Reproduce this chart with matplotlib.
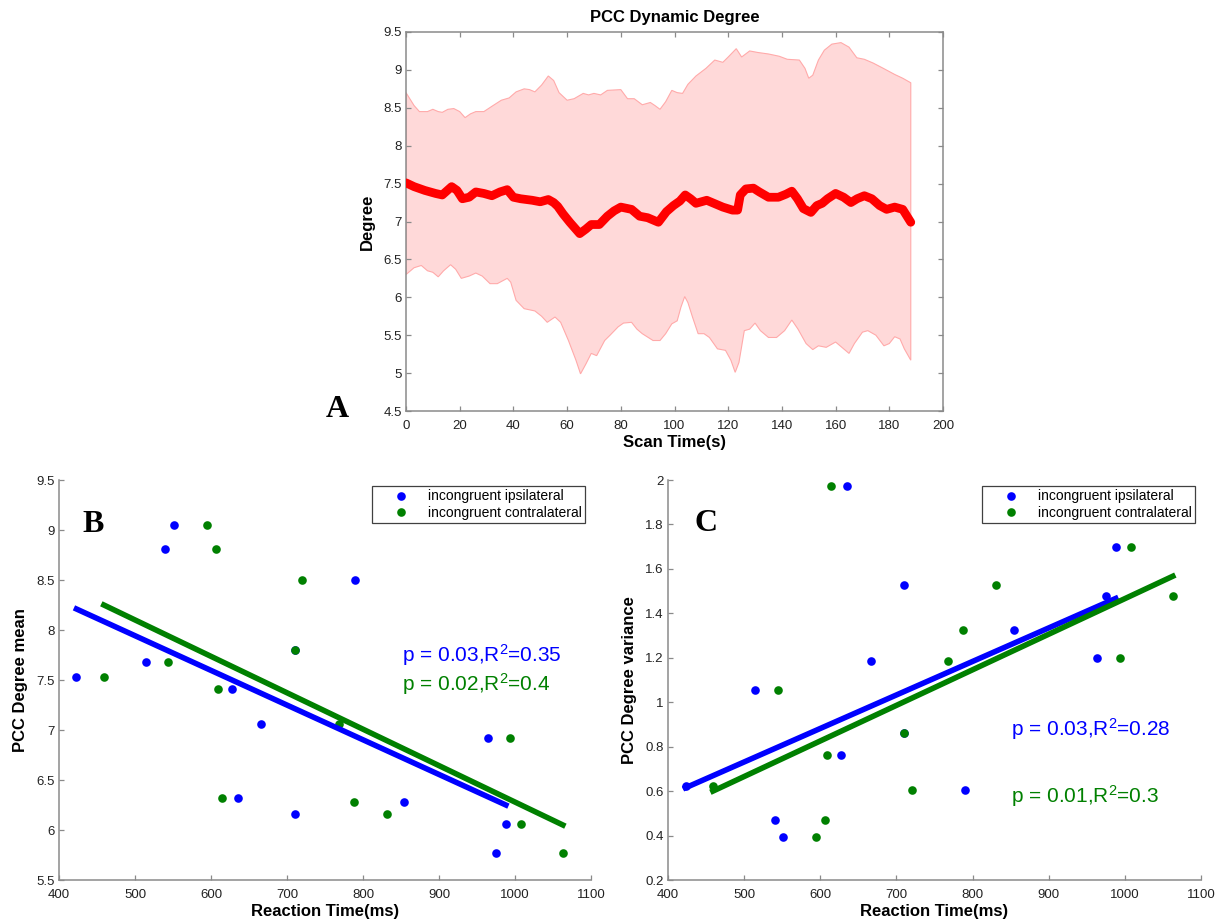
import numpy as np
import matplotlib
matplotlib.use("Agg")
import matplotlib.pyplot as plt
from matplotlib.ticker import FixedLocator, FuncFormatter

plt.rcParams['font.family'] = ['Liberation Sans', 'DejaVu Sans']
plt.rcParams['mathtext.fontset'] = 'custom'
plt.rcParams['mathtext.rm'] = 'Liberation Sans'
plt.rcParams['mathtext.it'] = 'Liberation Sans:italic'
plt.rcParams['mathtext.bf'] = 'Liberation Sans:bold'

# ---------------- Panel A: PCC dynamic degree over scan time ----------------
t_mean = [0, 3, 7, 11, 13.5, 17, 19, 21, 23.5, 26, 29, 32, 35, 37.7, 40, 42.7, 47, 50,
          53, 55, 56.5, 58.5, 61, 64.7, 67, 69, 72, 75, 77.5, 80, 84, 87, 90, 92, 94,
          97, 99.6, 102, 104, 106, 108, 112, 114, 118, 121.6, 123.5, 124.5, 126.6,
          129.4, 131.6, 135, 138.7, 141.5, 143.7, 145.8, 148, 150.8, 153, 155, 157,
          160, 163, 165.7, 168, 170.7, 173.5, 176.4, 179, 182, 185, 188]
deg_mean = [7.51, 7.46, 7.41, 7.37, 7.35, 7.46, 7.41, 7.30, 7.32, 7.39, 7.37, 7.34, 7.39,
            7.42, 7.32, 7.30, 7.28, 7.26, 7.29, 7.25, 7.20, 7.10, 6.99, 6.84, 6.90, 6.96,
            6.96, 7.07, 7.14, 7.19, 7.16, 7.07, 7.05, 7.02, 6.99, 7.13, 7.21, 7.27, 7.35,
            7.30, 7.24, 7.28, 7.25, 7.19, 7.15, 7.15, 7.35, 7.43, 7.44, 7.39, 7.32, 7.32,
            7.36, 7.40, 7.30, 7.17, 7.12, 7.21, 7.24, 7.30, 7.37, 7.32, 7.25, 7.30, 7.34,
            7.30, 7.21, 7.16, 7.19, 7.16, 6.99]

t_upper = [0, 3, 5, 8, 10, 12, 13.5, 15.6, 17.8, 20, 22, 24, 26, 29, 32, 35.5, 38.4, 41,
           44, 46, 48, 50.5, 53, 55, 57, 60, 62.6, 66, 68, 70, 72.5, 75, 80, 82.5, 85,
           88, 91, 92.7, 94.6, 96.7, 99, 101, 103, 105, 108, 111.7, 115, 118, 120, 123,
           125, 128, 131, 135, 139, 142, 146.5, 148.6, 150, 151.5, 153.6, 155.8, 158.6,
           162, 165, 167.9, 170.7, 174, 177.8, 182, 185, 188]
deg_upper = [8.70, 8.53, 8.45, 8.45, 8.48, 8.45, 8.44, 8.48, 8.49, 8.45, 8.37, 8.42, 8.45,
             8.45, 8.52, 8.60, 8.63, 8.71, 8.75, 8.74, 8.71, 8.80, 8.92, 8.86, 8.70, 8.60,
             8.62, 8.69, 8.67, 8.69, 8.67, 8.73, 8.74, 8.62, 8.62, 8.54, 8.57, 8.53, 8.48,
             8.58, 8.73, 8.70, 8.69, 8.81, 8.92, 9.02, 9.13, 9.10, 9.17, 9.28, 9.17, 9.25,
             9.23, 9.21, 9.18, 9.14, 9.13, 9.02, 8.89, 8.93, 9.13, 9.26, 9.34, 9.36, 9.30,
             9.16, 9.14, 9.09, 9.02, 8.94, 8.89, 8.83]

t_lower = [0, 3, 5.7, 8, 10, 12, 14, 16.6, 18.5, 20.6, 23.5, 26, 28.4, 31.3, 34, 37.7, 39,
           41, 44, 48, 50.5, 52.6, 55.5, 57.6, 60.5, 63.3, 65, 67, 69, 71, 74, 76, 79, 81,
           84, 86, 88, 92, 94.6, 96.7, 99, 101, 102.4, 103.8, 105, 106.7, 108.8, 111, 113,
           116, 119, 121, 122.6, 124, 126, 128, 130, 132, 135, 138, 141, 143.7, 146, 149,
           151.5, 153.6, 156.5, 160, 163, 165, 167, 170, 172, 175, 178, 180, 182, 184,
           185.6, 188]
deg_lower = [6.30, 6.39, 6.42, 6.35, 6.33, 6.27, 6.35, 6.43, 6.37, 6.25, 6.28, 6.32, 6.28,
             6.18, 6.18, 6.25, 6.20, 5.96, 5.85, 5.82, 5.75, 5.67, 5.74, 5.67, 5.43, 5.17,
             4.99, 5.12, 5.26, 5.23, 5.43, 5.50, 5.61, 5.66, 5.67, 5.58, 5.52, 5.43, 5.43,
             5.52, 5.65, 5.69, 5.87, 6.01, 5.93, 5.74, 5.52, 5.52, 5.47, 5.32, 5.30, 5.17,
             5.01, 5.14, 5.56, 5.58, 5.66, 5.56, 5.47, 5.47, 5.56, 5.70, 5.58, 5.39, 5.31,
             5.36, 5.34, 5.41, 5.32, 5.26, 5.39, 5.54, 5.56, 5.50, 5.36, 5.39, 5.48, 5.45,
             5.32, 5.17]

# ---------------- Panels B/C: per-subject reaction time vs PCC degree ----------------
rt_ipsilateral = [551, 540, 790, 423, 514, 627, 666, 635, 710, 854, 964, 988, 975, 710]
rt_contralateral = [595, 606, 720, 459, 544, 609, 768, 614, 831, 788, 993, 1008, 1063, 710]
pcc_degree_mean = [9.05, 8.81, 8.50, 7.53, 7.68, 7.41, 7.06, 6.32, 6.16, 6.28, 6.92, 6.06,
                   5.77, 7.80]
pcc_degree_variance = [0.395, 0.468, 0.603, 0.623, 1.053, 0.761, 1.185, 1.974, 1.526,
                       1.327, 1.20, 1.70, 1.477, 0.863]

# Regression line values at the shortest and longest reaction time of each group
fit_mean_ipsilateral = [8.21, 6.25]
fit_mean_contralateral = [8.25, 6.05]
fit_variance_ipsilateral = [0.615, 1.467]
fit_variance_contralateral = [0.600, 1.567]

group_labels = ['incongruent ipsilateral', 'incongruent contralateral']
stats_mean = ['p = 0.03,R$^2$=0.35', 'p = 0.02,R$^2$=0.4']
stats_variance = ['p = 0.03,R$^2$=0.28', 'p = 0.01,R$^2$=0.3']

BLUE = '#0000ff'
GREEN = '#008000'
SPINE = '#8a8a8a'
TICKLBL = '#222222'

W, H = 1224, 922
fig = plt.figure(figsize=(W / 100, H / 100), dpi=100)


def px_axes(left, top, right, bottom):
    return fig.add_axes([left / W, 1 - bottom / H, (right - left) / W, (bottom - top) / H])


def fmt(v, _):
    return '%g' % round(v, 3)


def style_axes(ax, full_box):
    for side in ['top', 'right']:
        ax.spines[side].set_visible(full_box)
    for sp in ax.spines.values():
        sp.set_color(SPINE)
        sp.set_linewidth(1.1)
    ax.tick_params(direction='in', length=3.5, width=0.9, color=SPINE,
                   labelsize=9.5, labelcolor=TICKLBL, pad=3,
                   top=full_box, right=full_box)
    ax.tick_params(axis='x', pad=6.5)
    ax.xaxis.set_major_formatter(FuncFormatter(fmt))
    ax.yaxis.set_major_formatter(FuncFormatter(fmt))


# ---- Panel A ----
axA = px_axes(406, 32, 943, 411)
band_x = list(t_upper) + list(t_lower[::-1])
band_y = list(deg_upper) + list(deg_lower[::-1])
axA.fill(band_x, band_y, facecolor='#ffd9d9', edgecolor='#ffaaaa', linewidth=0.8, zorder=1)
axA.plot(t_mean, deg_mean, color='#ff0000', linewidth=6.3, solid_capstyle='round',
         solid_joinstyle='round', zorder=3)
axA.set_xlim(0, 200)
axA.set_ylim(4.5, 9.5)
axA.xaxis.set_major_locator(FixedLocator(np.arange(0, 201, 20)))
axA.yaxis.set_major_locator(FixedLocator(np.arange(4.5, 9.51, 0.5)))
style_axes(axA, True)
axA.set_title('PCC Dynamic Degree', fontsize=12, fontweight='bold', pad=7)
axA.set_xlabel('Scan Time(s)', fontsize=12, fontweight='bold', labelpad=2)
axA.set_ylabel('Degree', fontsize=12, fontweight='bold', labelpad=6)


def scatter_panel(ax, yvals, fits, ylim, yticks, ylabel, stats, stat_y):
    xi = np.array(rt_ipsilateral, dtype=float)
    xc = np.array(rt_contralateral, dtype=float)
    y = np.array(yvals, dtype=float)
    ax.plot(xi, y, 'o', color=BLUE, markersize=6.2, markeredgewidth=0,
            label=group_labels[0], zorder=3)
    ax.plot(xc, y, 'o', color=GREEN, markersize=6.2, markeredgewidth=0,
            label=group_labels[1], zorder=3)
    for xs, fit, col in [(xi, fits[0], BLUE), (xc, fits[1], GREEN)]:
        ax.plot([xs.min(), xs.max()], fit, color=col, linewidth=4, zorder=4)
    for txt, ty, col in zip(stats, stat_y, [BLUE, GREEN]):
        ax.text(851, ty, txt, color=col, fontsize=15, va='baseline', ha='left', zorder=5)
    ax.set_xlim(400, 1100)
    ax.set_ylim(*ylim)
    ax.xaxis.set_major_locator(FixedLocator(np.arange(400, 1101, 100)))
    ax.yaxis.set_major_locator(FixedLocator(yticks))
    style_axes(ax, False)
    ax.set_xlabel('Reaction Time(ms)', fontsize=12, fontweight='bold', labelpad=2)
    ax.set_ylabel(ylabel, fontsize=12, fontweight='bold', labelpad=6)
    leg = ax.legend(loc='upper right', bbox_to_anchor=(1.0 - 6 / 532, 1.0 - 6 / 400),
                    fontsize=10, frameon=True, fancybox=False, framealpha=1,
                    edgecolor='#404040', borderpad=0.25, labelspacing=0.15,
                    handlelength=3.6, handletextpad=0.15, borderaxespad=0,
                    numpoints=1)
    leg.get_frame().set_linewidth(0.9)
    return ax


axB = px_axes(59, 480, 591, 880)
scatter_panel(axB, pcc_degree_mean, [fit_mean_ipsilateral, fit_mean_contralateral],
              (5.5, 9.5), np.arange(5.5, 9.51, 0.5),
              'PCC Degree mean', stats_mean, [7.68, 7.39])

axC = px_axes(668, 480, 1201, 880)
scatter_panel(axC, pcc_degree_variance, [fit_variance_ipsilateral, fit_variance_contralateral],
              (0.2, 2.0), np.round(np.arange(0.2, 2.01, 0.2), 1),
              'PCC Degree variance', stats_variance, [0.848, 0.548])

# Panel letters
for letter, x, y in [('A', 326, 417), ('B', 82, 532), ('C', 694, 531)]:
    fig.text(x / W, 1 - y / H, letter, fontsize=23, fontweight='bold',
             family='Liberation Serif', ha='left', va='baseline')

fig.savefig('out.png', dpi=100, facecolor='white')
